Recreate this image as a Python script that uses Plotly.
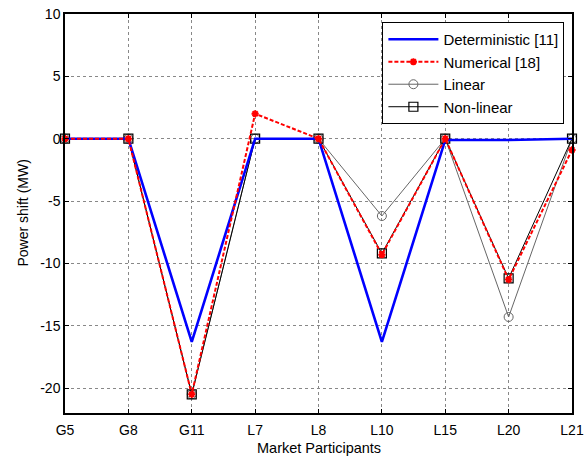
import plotly.graph_objects as go

participants = ["G5", "G8", "G11", "L7", "L8", "L10", "L15", "L20", "L21"]
deterministic = [0, 0, -16.3, 0, 0, -16.3, -0.1, -0.1, 0]
numerical = [0, 0, -20.5, 2.0, 0, -9.3, 0, -11.3, -0.9]
linear = [0, 0, -20.5, 0, 0, -6.2, 0, -14.3, 0]
nonlinear = [0, 0, -20.5, 0, 0, -9.2, 0, -11.2, 0]
y_ticks = [10, 5, 0, -5, -10, -15, -20]

FONT = "Liberation Sans, Arial"

fig = go.Figure()
fig.add_trace(go.Scatter(x=participants, y=linear, name="Linear", legendrank=3,
                         mode="lines+markers", line=dict(color="#666666", width=1),
                         marker=dict(symbol="circle-open", size=9, color="#666666",
                                     line=dict(color="#666666", width=1)), cliponaxis=False))
fig.add_trace(go.Scatter(x=participants, y=nonlinear, name="Non-linear", legendrank=4,
                         mode="lines+markers", line=dict(color="#000000", width=1),
                         marker=dict(symbol="square-open", size=9, color="#000000",
                                     line=dict(color="#000000", width=1.2)), cliponaxis=False))
fig.add_trace(go.Scatter(x=participants, y=deterministic, name="Deterministic [11]", legendrank=1,
                         mode="lines", line=dict(color="#0000ff", width=2.6), cliponaxis=False))
fig.add_trace(go.Scatter(x=participants, y=numerical, name="Numerical [18]", legendrank=2,
                         mode="lines+markers", line=dict(color="#ff0000", width=2, dash="4px,2px"),
                         marker=dict(symbol="asterisk-open", size=6, color="#ff0000",
                                     line=dict(color="#ff0000", width=2)), cliponaxis=False))

axis_common = dict(showline=True, linecolor="black", linewidth=1.5, mirror="ticks",
                   ticks="inside", ticklen=4, tickcolor="black", automargin=False,
                   showgrid=True, gridcolor="#888888", griddash="dot", gridwidth=1,
                   zeroline=False, tickfont=dict(family=FONT, size=14, color="black"))

fig.update_layout(
    width=588, height=459,
    margin=dict(l=65, r=16, t=14, b=46),
    paper_bgcolor="white", plot_bgcolor="white",
    font=dict(family=FONT, size=14, color="black"),
    legend=dict(x=0.985, y=0.98, xanchor="right", yanchor="top",
                bgcolor="white", bordercolor="black", borderwidth=1,
                font=dict(size=15), tracegroupgap=0, itemwidth=50),
    showlegend=True,
    annotations=[
        dict(text="Market Participants", xref="paper", yref="paper", x=0.5, y=-0.0877,
             xanchor="center", yanchor="middle", showarrow=False, font=dict(size=14.5)),
        dict(text="Power shift (MW)", xref="paper", yref="paper", x=-0.0848, y=0.5,
             xanchor="center", yanchor="middle", textangle=-90, showarrow=False,
             font=dict(size=14)),
    ],
)
fig.update_xaxes(type="category", categoryorder="array", categoryarray=participants,
                 range=[0, 8], ticklabelstandoff=3, **axis_common)
fig.update_yaxes(range=[-22, 10], tickvals=y_ticks, ticktext=[str(v) for v in y_ticks],
                 **axis_common)

fig.write_html("out.html")
